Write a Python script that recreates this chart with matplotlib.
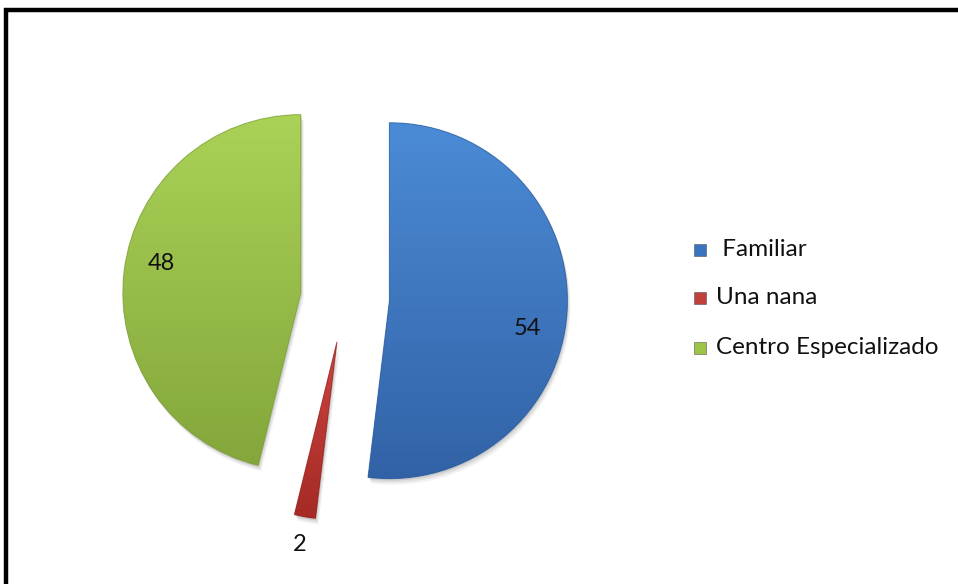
import numpy as np
import matplotlib.pyplot as plt
from matplotlib.colors import LinearSegmentedColormap
from matplotlib.patches import Rectangle, Wedge

# data
categories = [" Familiar", "Una nana", "Centro Especializado"]
values = [54, 2, 48]
value_labels = ["54", "2", "48"]

# gradient colours per slice (top, bottom)
top_colors = ["#4b8bd6", "#cc4440", "#aad257"]
bottom_colors = ["#3262a6", "#a52a25", "#84a63b"]
edge_colors = ["#2c5a99", "#8f2420", "#789a34"]
legend_colors = ["#3a74c0", "#c0403c", "#9cc548"]

W, H = 958, 584
fig = plt.figure(figsize=(W / 100, H / 100), dpi=100)
ax = fig.add_axes([0, 0, 1, 1])

center = (345, 286)
radius = 178
# explode is in data units here, since the pie is drawn in pixel coordinates
wedges, _ = ax.pie(values, startangle=90, counterclock=False,
                   explode=[0.25 * radius] * 3,
                   center=center, radius=radius, colors=legend_colors,
                   wedgeprops=dict(linewidth=0))

for w, c1, c2, ec in zip(wedges, top_colors, bottom_colors, edge_colors):
    # soft shadow
    for k, a in [(3, 0.05), (2, 0.07), (1, 0.09)]:
        ax.add_patch(Wedge((w.center[0] + k, w.center[1] - 2 * k), radius, w.theta1, w.theta2,
                           facecolor="black", alpha=a, linewidth=0, zorder=0.5))
    x0, y0, x1, y1 = w.get_path().get_extents(w.get_patch_transform()).extents
    cmap = LinearSegmentedColormap.from_list("g", [c2, c1])
    grad = np.linspace(0, 1, 256).reshape(-1, 1)
    im = ax.imshow(grad, cmap=cmap, origin="lower", extent=(x0, x1, y0, y1),
                   aspect="auto", zorder=2, interpolation="bilinear")
    im.set_clip_path(w)
    w.set_zorder(1)
    ax.add_patch(Wedge(w.center, radius, w.theta1, w.theta2, facecolor="none",
                       edgecolor=ec, linewidth=0.8, alpha=0.6, zorder=3))

# value labels: (radial fraction, angle tweak in degrees)
label_pos = [(0.79, -8), (1.16, 0), (0.80, -5)]
for w, txt, (frac, dth) in zip(wedges, value_labels, label_pos):
    ang = np.deg2rad((w.theta1 + w.theta2) / 2 + dth)
    cx, cy = w.center
    ax.text(cx + frac * radius * np.cos(ang), cy + frac * radius * np.sin(ang), txt,
            ha="center", va="center", fontsize=17, family="Lato", color="#111111", zorder=5)

# legend
leg_y = [H - 250, H - 298, H - 348]
for name, col, y in zip(categories, legend_colors, leg_y):
    ax.add_patch(Rectangle((694, y - 6), 12, 12, facecolor=col, edgecolor="#555555",
                           linewidth=0.4, zorder=5))
    ax.text(716, y, name, ha="left", va="center", fontsize=17.5, family="Lato",
            color="#111111", zorder=5)

# outer frame (cropped on right and bottom)
ax.add_patch(Rectangle((6, -40), W + 200, H - 10 + 40, facecolor="none",
                       edgecolor="black", linewidth=3.2, zorder=6))

ax.set_xlim(0, W)
ax.set_ylim(0, H)
ax.set_aspect("auto")
ax.axis("off")

fig.savefig("out.png", dpi=100)
